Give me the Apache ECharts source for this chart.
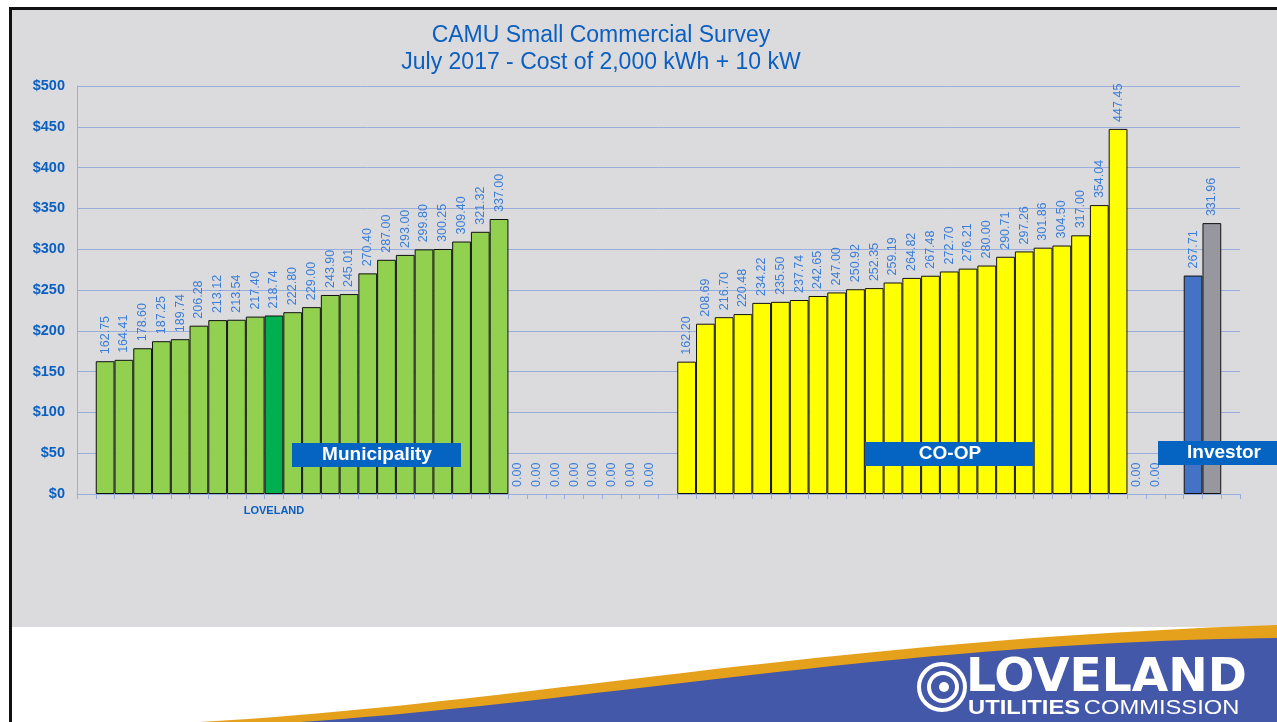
<!DOCTYPE html>
<html>
<head>
<meta charset="utf-8">
<title>CAMU Small Commercial Survey</title>
<script src="https://cdn.jsdelivr.net/npm/echarts@6/dist/echarts.min.js"></script>
<style>
  html, body { margin: 0; padding: 0; background: #fff; }
  #box { width: 1277px; height: 722px; }
</style>
</head>
<body>
<div id="box"></div>
<script>
// survey values ($ for 2,000 kWh + 10 kW), sorted within each group
const municipal = [162.75, 164.41, 178.60, 187.25, 189.74, 206.28, 213.12, 213.54, 217.40, 218.74,
  222.80, 229.00, 243.90, 245.01, 270.40, 287.00, 293.00, 299.80, 300.25, 309.40, 321.32, 337.00];
const municipalBlank = [0, 0, 0, 0, 0, 0, 0, 0];
const coop = [162.20, 208.69, 216.70, 220.48, 234.22, 235.50, 237.74, 242.65, 247.00, 250.92, 252.35,
  259.19, 264.82, 267.48, 272.70, 276.21, 280.00, 290.71, 297.26, 301.86, 304.50, 317.00, 354.04, 447.45];
const coopBlank = [0, 0];
const investor = [267.71, 331.96];
const lovelandIndex = 9; // position inside municipal
const yTicks = [0, 50, 100, 150, 200, 250, 300, 350, 400, 450, 500];

// colours
const green = "#92d050", lovelandGreen = "#00b050", yellow = "#ffff00";
const investorColors = ["#4472c4", "#97979f"];

// build one category row: empty slot, groups, empty slots between
let values = [];
let colors = [];
function push(v, c) { values.push(v); colors.push(c); }
push(null, green);
municipal.forEach((v, i) => push(v, i === lovelandIndex ? lovelandGreen : green));
municipalBlank.forEach(v => push(v, green));
push(null, green);
coop.forEach(v => push(v, yellow));
coopBlank.forEach(v => push(v, yellow));
push(null, green);
investor.forEach((v, i) => push(v, investorColors[i]));
push(null, green);

const categories = values.map((v, i) => (i === 1 + lovelandIndex ? "LOVELAND" : ""));

// points along a cubic curve, for the decorative swoosh
function curve(p0, p1, p2, p3) {
  let pts = [];
  for (let k = 0; k <= 40; k++) {
    let t = k / 40, u = 1 - t;
    pts.push([
      u * u * u * p0[0] + 3 * u * u * t * p1[0] + 3 * u * t * t * p2[0] + t * t * t * p3[0],
      u * u * u * p0[1] + 3 * u * u * t * p1[1] + 3 * u * t * t * p2[1] + t * t * t * p3[1]
    ]);
  }
  return pts;
}
const orangeTop = curve([200, 722], [520, 704], [820, 640], [1277, 625]);
const orangeBottom = curve([1277, 646], [900, 652], [620, 702], [330, 722]);
const blueTop = curve([300, 722], [600, 702], [900, 642], [1277, 638]);

let myCharts = echarts.init(document.getElementById("box"));

const blue = "#0b5fc0";
const labelBlue = "#3b7dd6";
const gridBlue = "#9aaede";

let option = {
  backgroundColor: "#ffffff",
  animation: false,
  graphic: [
    // slide panel + border
    { type: "rect", z: -10, shape: { x: 11, y: 9, width: 1266, height: 618 }, style: { fill: "#dbdbde" } },
    { type: "polyline", z: -9, shape: { points: [[10.5, 722], [10.5, 8.5], [1277, 8.5]] }, style: { stroke: "#111", lineWidth: 3, fill: null } },
    // swoosh at the bottom
    { type: "polygon", z: -8, shape: { points: orangeTop.concat(orangeBottom) }, style: { fill: "#e6a11c" } },
    { type: "polygon", z: -7, shape: { points: blueTop.concat([[1277, 722]]) }, style: { fill: "#4358a8" } },
    // logo
    { type: "circle", shape: { cx: 942, cy: 687, r: 23 }, style: { fill: null, stroke: "#fff", lineWidth: 4 } },
    { type: "circle", shape: { cx: 943, cy: 687, r: 14 }, style: { fill: null, stroke: "#fff", lineWidth: 4 } },
    { type: "circle", shape: { cx: 944, cy: 687, r: 5 }, style: { fill: "#fff" } },
    {
      type: "text", x: 966, y: 656, scaleX: 1.14,
      style: { text: "LOVELAND", fill: "#fff", font: "bold 46px 'Liberation Sans Narrow', 'DejaVu Sans Condensed', sans-serif" }
    },
    {
      type: "text", x: 968, y: 698, scaleX: 1.13,
      style: {
        text: "{b|UTILITIES} {r|COMMISSION}",
        rich: {
          b: { fill: "#fff", font: "bold 21px 'Liberation Sans Narrow', sans-serif" },
          r: { fill: "#fff", font: "21px 'Liberation Sans Narrow', sans-serif" }
        }
      }
    },
    // title
    {
      type: "text", x: 601, y: 24,
      style: { text: "CAMU Small Commercial Survey", fill: blue, font: "23px 'Liberation Sans', Arial, sans-serif", align: "center" }
    },
    {
      type: "text", x: 601, y: 51,
      style: { text: "July 2017 - Cost of 2,000 kWh + 10 kW", fill: blue, font: "23px 'Liberation Sans', Arial, sans-serif", align: "center" }
    },
    // group tags
    { type: "rect", z: 20, shape: { x: 292, y: 443, width: 169, height: 24 }, style: { fill: "#0563c1" } },
    { type: "text", z: 21, x: 377, y: 445, style: { text: "Municipality", fill: "#fff", font: "bold 19px 'Liberation Sans', Arial, sans-serif", align: "center" } },
    { type: "rect", z: 20, shape: { x: 865, y: 442, width: 169, height: 24 }, style: { fill: "#0563c1" } },
    { type: "text", z: 21, x: 950, y: 444, style: { text: "CO-OP", fill: "#fff", font: "bold 19px 'Liberation Sans', Arial, sans-serif", align: "center" } },
    { type: "rect", z: 20, shape: { x: 1158, y: 441, width: 119, height: 24 }, style: { fill: "#0563c1" } },
    { type: "text", z: 21, x: 1224, y: 443, style: { text: "Investor", fill: "#fff", font: "bold 19px 'Liberation Sans', Arial, sans-serif", align: "center" } }
  ],
  grid: { left: 77, right: 37, top: 86, bottom: 228, containLabel: false },
  xAxis: {
    type: "category",
    data: categories,
    axisLine: { lineStyle: { color: gridBlue } },
    axisTick: { show: true, interval: 0, alignWithLabel: false, lineStyle: { color: gridBlue }, length: 5 },
    axisLabel: { interval: 0, color: blue, fontWeight: "bold", fontSize: 11, margin: 11, fontFamily: "Liberation Sans Narrow, Liberation Sans, sans-serif" }
  },
  yAxis: {
    type: "value",
    min: yTicks[0],
    max: yTicks[yTicks.length - 1],
    interval: yTicks[1] - yTicks[0],
    axisLine: { show: true, lineStyle: { color: gridBlue } },
    axisTick: { show: false },
    splitLine: { lineStyle: { color: gridBlue } },
    axisLabel: {
      color: blue, fontWeight: "bold", fontSize: 14.5, margin: 12,
      fontFamily: "Liberation Sans, Arial, sans-serif",
      formatter: v => "$" + v
    }
  },
  series: [
    {
      type: "bar",
      barCategoryGap: "0%",
      data: values.map((v, i) => ({
        value: v,
        itemStyle: { color: colors[i], borderColor: "#111", borderWidth: v ? 1 : 0 }
      })),
      label: {
        show: true,
        position: "top",
        rotate: 90,
        align: "left",
        verticalAlign: "middle",
        distance: 7,
        color: labelBlue,
        fontSize: 12.5,
        fontFamily: "Liberation Sans, Arial, sans-serif",
        formatter: p => (p.value == null ? "" : p.value.toFixed(2))
      }
    }
  ]
};
myCharts.setOption(option);
</script>
</body>
</html>
